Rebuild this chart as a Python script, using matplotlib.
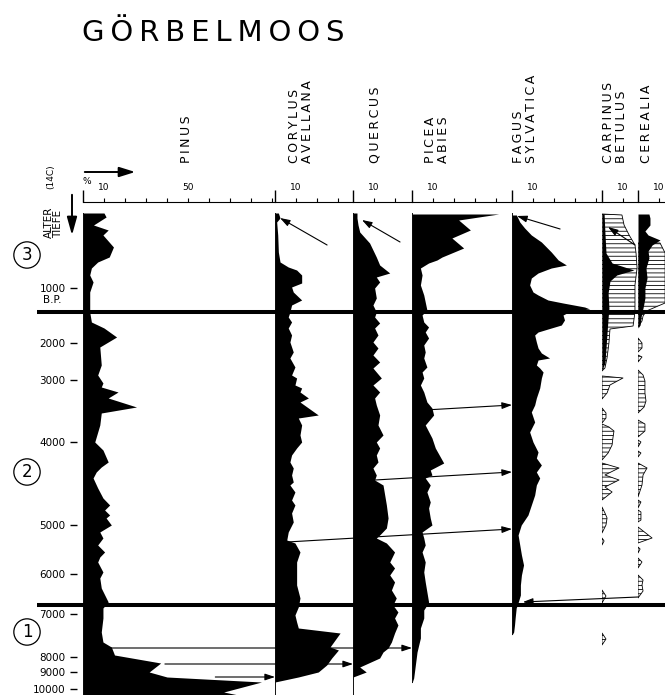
import numpy as np
import matplotlib.pyplot as plt
from matplotlib.patches import ConnectionPatch, FancyArrowPatch

plt.rcParams['font.family'] = ['DejaVu Sans']
plt.rcParams['hatch.linewidth'] = 0.6

# depth below the top of the profile (cm) and pollen percentages
pinus_depth = [0, 4, 12, 17, 22, 34, 44, 49, 55, 62, 69, 79, 99, 109, 115, 124, 134, 152, 162, 170,
               174, 179, 185, 194, 200, 212, 229, 237, 249, 254, 259, 265, 275, 285, 292, 297, 302, 305, 312, 319,
               325, 332, 339, 344, 349, 359, 365, 375, 389, 395, 405, 419, 429, 434, 442, 450, 459, 464, 469, 479, 482]
pinus_pct = [10, 11, 5, 12, 9.5, 14.5, 12.5, 7, 4, 3.2, 4.8, 3.2, 3.2, 4, 10, 16, 8, 8.7, 7, 9.5,
             8.7, 16.7, 12, 25.5, 8.7, 8, 5.6, 9.5, 12, 8.7, 6.3, 4.8, 7, 9.5, 12.7, 10.3, 12.7, 11, 13.5, 8,
             9.5, 7, 10.3, 8, 7, 9.5, 8, 8.7, 12, 9.5, 9.5, 8.7, 9.5, 13.5, 15, 37, 31.5, 40, 85, 67, 74]

corylus_depth = [0, 5, 9, 22, 39, 49, 54, 57, 62, 70, 74, 79, 87, 92, 99, 104, 109, 115, 122, 129,
                 139, 145, 154, 162, 165, 172, 175, 179, 185, 189, 202, 205, 212, 222, 229, 235, 242, 249, 255, 262,
                 269, 272, 279, 287, 292, 300, 309, 319, 327, 330, 339, 349, 372, 385, 394, 402, 409, 415, 420, 434,
                 437, 445, 452, 459, 464, 469]
corylus_pct = [1.6, 2.4, 0.8, 1.3, 1.6, 2.4, 6.3, 10.3, 12.7, 12.7, 7.9, 8.7, 12.7, 7.9, 7.1, 6.3, 7.9, 6.3, 7.9, 7.1,
               8.7, 7.1, 9.5, 7.9, 10.3, 9.5, 12.7, 11.9, 15.9, 11.9, 20.6, 11.1, 12.7, 11.9, 12.7, 10.3, 7.9, 7.1, 8.7, 7.9,
               8.7, 7.1, 9.5, 7.9, 9.5, 7.9, 8.7, 6.3, 5.6, 9.5, 11.9, 10.3, 10.3, 11.9, 11.1, 9.5, 10.3, 11.1, 31, 26.2,
               30.2, 27, 24.6, 20.6, 11.1, 0]

quercus_depth = [0, 5, 12, 19, 30, 44, 52, 60, 64, 69, 75, 85, 92, 99, 104, 110, 115, 122, 129, 135,
                 142, 149, 155, 165, 172, 179, 185, 192, 202, 212, 222, 229, 235, 242, 249, 255, 262, 267, 272, 282,
                 292, 305, 315, 322, 325, 330, 339, 349, 355, 362, 369, 377, 385, 392, 399, 405, 412, 420, 429, 435,
                 439, 445, 454, 459, 464]
quercus_pct = [1.9, 1.9, 2.4, 3.2, 7.9, 11.1, 12.7, 17.5, 11.1, 12.7, 10.3, 11.1, 9.5, 11.1, 10.3, 12.7, 10.3, 11.9, 9.5, 11.9,
               9.5, 12.7, 9.5, 13.5, 9.5, 12.7, 10.3, 11.1, 12.7, 11.9, 14.3, 11.1, 12.7, 11.1, 11.9, 9.5, 11.1, 10.3, 14.3, 15.1,
               15.9, 16.7, 15.9, 12.7, 11.1, 15.9, 19.8, 17.5, 19.8, 17.5, 19.8, 18.3, 20.6, 19, 21.4, 19.8, 21.4, 19.8, 18.3, 16.7,
               14.3, 12.7, 3.2, 6.3, 0]

picea_depth = [1, 7, 17, 25, 35, 44, 47, 50, 55, 62, 72, 82, 89, 97, 102, 109, 114, 119, 125, 132,
               139, 145, 154, 159, 165, 172, 179, 189, 195, 202, 212, 225, 235, 250, 257, 262, 265, 272, 279, 289,
               295, 305, 312, 319, 325, 332, 339, 349, 359, 369, 389, 392, 397, 405, 415, 425, 439, 452, 465, 470]
picea_pct = [41.3, 22.2, 27.8, 19, 24.6, 14.3, 11.9, 7.9, 4.0, 4.8, 4.0, 5.6, 6.3, 7.1, 4.8, 5.6, 7.9, 6.3, 7.9, 5.6,
             6.3, 5.6, 7.1, 4.8, 5.6, 4.0, 5.6, 7.1, 9.5, 10.3, 6.3, 9.5, 11.1, 15.1, 8.7, 9.5, 6.3, 8.7, 7.1, 8.7,
             7.9, 8.7, 9.5, 4.8, 5.6, 6.3, 4.8, 6.3, 5.6, 6.3, 7.9, 7.1, 5.6, 5.6, 4.0, 4.0, 2.4, 1.6, 0.8, 0]

fagus_depth = [2, 9, 15, 22, 29, 39, 47, 52, 55, 60, 65, 72, 79, 82, 87, 90, 94, 96, 98, 102,
               107, 112, 115, 119, 122, 129, 135, 140, 145, 147, 152, 155, 159, 165, 175, 185, 192, 199, 209, 219,
               229, 239, 245, 252, 259, 265, 272, 282, 292, 302, 312, 322, 332, 342, 352, 362, 372, 382, 389, 395,
               405, 412, 419, 422]
fagus_pct = [2.1, 3.7, 6.0, 9.2, 14, 18.7, 22, 25.9, 18.7, 12.4, 9.2, 8.4, 10, 12.4, 17.1, 24.3, 34.6, 37, 28, 24.3,
             25, 23.5, 18.7, 12.4, 10.8, 11.6, 12.4, 14, 17.9, 12.4, 11.6, 13.2, 14.8, 14, 13.2, 11.6, 10.8, 9.2, 10.8, 8.4,
             10, 12.4, 11.6, 14, 11.6, 13.2, 11.6, 10.8, 9.2, 7.6, 4.4, 2.9, 3.7, 4.5, 5.5, 4.5, 4, 4, 3, 2,
             1.5, 1.2, 0.8, 0]

carpinus_depth = [1, 20, 40, 50, 57, 62, 68, 80, 95, 105, 120, 135, 150, 157]
carpinus_pct = [1, 1.4, 1.9, 4.8, 15.2, 7, 3.8, 2.9, 3.3, 2.9, 2.4, 1.9, 1.4, 0]
# exaggerated (x10) outline, nan separates the single occurrences
nan = np.nan
carpinus_x10_depth = [1, 2, 12, 22, 32, 40, 55, 72, 99, 113, 116, 130, 145, 155, 158, nan,
                      163, 165, 172, 180, 186, nan, 195, 200, 205, 210, nan,
                      211, 214, 218, 225, 232, 240, 247, nan, 250, 255, 262, 267, 274, 279, 287, nan,
                      294, 300, 305, 312, 320, nan, 325, 328, 332, nan, 377, 383, 390, nan, 420, 426, 432]
carpinus_x10 = [0, 9.5, 10.5, 12.9, 15.7, 16.2, 16.7, 15.7, 15.7, 14.8, 3.8, 3.3, 2.4, 1.4, 0, nan,
                0, 10, 3.8, 2.4, 0, nan, 0, 1.9, 1.9, 0, nan,
                0, 3.3, 5.7, 5.2, 4.8, 2.9, 0, nan, 0, 8.1, 1.4, 8.1, 1.4, 4.8, 0, nan,
                0, 1.4, 2.4, 1.9, 0, nan, 0, 1.0, 0, nan, 0, 1.9, 0, nan, 0, 1.9, 0]

cerealia_depth = [1, 5, 12, 18, 22, 27, 32, 38, 45, 55, 65, 75, 85, 95, 99, 105, 112, 115]
cerealia_pct = [5.2, 5.7, 5.7, 3.3, 4.8, 10.5, 6.7, 4.8, 5.2, 3.8, 4.3, 3.3, 3.3, 2.4, 1.9, 1.4, 1.0, 0]
cerealia_x10_depth = [30, 40, 90, 98, 103, 108, 114, nan, 125, 130, 135, 139, nan, 142, 144, 149, nan,
                      157, 162, 168, 180, 188, 194, 200, nan, 207, 211, 218, 224, nan, 227, 229, 234, nan,
                      238, 240, 244, nan, 250, 255, 262, 272, 284, nan, 287, 289, 295, nan, 297, 299, 307, 309, nan,
                      314, 325, 330, nan, 334, 336, 340, nan, 345, 349, 355, nan, 362, 367, 372, 378, 385]
cerealia_x10 = [10.5, 12.9, 12.9, 4, 2.4, 1.9, 0, nan, 0, 1.9, 1.9, 0, nan, 0, 1.9, 0, nan,
                0, 2.4, 3.3, 3.3, 3.8, 2.9, 0, nan, 0, 3.3, 3.3, 0, nan, 0, 1.4, 0, nan,
                0, 1.4, 0, nan, 0, 4.3, 2.4, 1.9, 0, nan, 0, 1.4, 0, nan, 0, 1.4, 1.4, 0, nan,
                0, 6.7, 0, nan, 0, 1.0, 0, nan, 0, 1.9, 0, nan, 0, 2.4, 1.9, 2.4, 0]

taxa = ['PINUS', 'CORYLUS\nAVELLANA', 'QUERCUS', 'PICEA\nABIES',
        'FAGUS\nSYLVATICA', 'CARPINUS\nBETULUS', 'CEREALIA']
age_labels = ['1000', '2000', '3000', '4000', '5000', '6000', '7000', '8000', '9000', '10000']
age_depth = [75, 130, 167, 229, 312, 361, 401, 444, 459, 476]
zone_depth = [99, 392]
zone_names = ['3', '2', '1']
zone_label_depth = [42, 259, 419]

# correlation arrows: (from taxon, %, depth) -> (to taxon, %, depth)
links = [
    (1, 24.8, 32, 1, 2.4, 5),
    (2, 22.4, 29, 2, 4.3, 7),
    (4, 22.9, 16, 4, 2.4, 3),
    (5, 15.7, 32, 5, 2.9, 14),
    (3, 6.2, 197, 4, 0, 192),
    (2, 10.5, 267, 4, 0, 259),
    (1, 5.7, 329, 4, 0, 316),
    (6, 0, 384, 4, 5.2, 389),
    (0, 13.3, 435, 3, 0, 435),
    (0, 39, 451, 2, 0, 451),
    (0, 63, 464, 1, 0, 464),
]

W, H = 665, 695
TOP = 213
DMAX = H - TOP
PX = 2.1  # pixels per percent

edges = [83, 275, 353, 412, 512, 602, 638, 665]
label_x = [187, 301, 375, 437, 525, 615, 647]
scale_labels = [[10, 50], [10], [10], [10], [10], [10], [10]]
zero_end = [DMAX, DMAX, DMAX, 470, 422, None, None]
curves = [(pinus_depth, pinus_pct), (corylus_depth, corylus_pct), (quercus_depth, quercus_pct),
          (picea_depth, picea_pct), (fagus_depth, fagus_pct), (carpinus_depth, carpinus_pct),
          (cerealia_depth, cerealia_pct)]
outlines = {5: (carpinus_x10_depth, carpinus_x10), 6: (cerealia_x10_depth, cerealia_x10)}

fig = plt.figure(figsize=(W / 100, H / 100), dpi=100)


def fx(px):
    return px / W


def fy(py):
    return 1 - py / H


def spaced(s):
    return '\n'.join('\u2009'.join(line) for line in s.split('\n'))


axes = []
for i, name in enumerate(taxa):
    left, right = edges[i], edges[i + 1]
    ax = fig.add_axes([fx(left), 0, (right - left) / W, DMAX / H])
    xmax = (right - left) / PX
    ax.set_xlim(0, xmax)
    ax.set_ylim(DMAX, 0)
    ax.patch.set_visible(False)
    for s in ('left', 'right', 'bottom'):
        ax.spines[s].set_visible(False)
    ax.spines['top'].set_position(('outward', 8))
    ax.spines['top'].set_linewidth(0.8)
    ax.xaxis.set_ticks_position('top')
    ax.set_xticks([0], labels=[''])
    minor = np.arange(10, xmax, 10)
    ax.set_xticks(minor, labels=[str(int(t)) if t in scale_labels[i] else '' for t in minor], minor=True)
    ax.tick_params(axis='x', which='major', length=8.5, width=1)
    ax.tick_params(axis='x', which='minor', length=3, width=0.8, labelsize=6.5, pad=4)
    ax.set_yticks([])

    if i in outlines:
        od, ov = outlines[i]
        ax.fill_betweenx(od, 0, ov, facecolor='white', edgecolor='black', hatch='----', lw=0.6)
    d, v = curves[i]
    ax.fill_betweenx(d, 0, v, color='black', lw=0)
    if zero_end[i] is not None:
        ax.vlines(0, 0, zero_end[i], color='black', lw=1.3)
    axes.append(ax)

    fig.text(fx(label_x[i]), fy(163), spaced(name), rotation=90, ha='center', va='bottom',
             fontsize=9, multialignment='left', linespacing=1.0)

# age scale on the left of the Pinus column
ax0 = axes[0]
ax0.set_yticks(age_depth, labels=age_labels)
ax0.spines['left'].set_position(('outward', 4.5))
ax0.tick_params(axis='y', length=5, width=1, pad=3, labelsize=7.5)

# overlay for zone boundaries and zone numbers
ax_bg = fig.add_axes([0, 0, 1, DMAX / H], zorder=3)
ax_bg.set_xlim(0, W)
ax_bg.set_ylim(DMAX, 0)
ax_bg.axis('off')
ax_bg.hlines(zone_depth, 37, W, color='black', lw=2.9)
for name, d in zip(zone_names, zone_label_depth):
    ax_bg.text(27, d, name, ha='center', va='center', fontsize=12,
               bbox=dict(boxstyle='circle,pad=0.25', fc='white', ec='black', lw=0.9))
ax_bg.text(52, 300 - TOP, 'B.P.', ha='center', va='center', fontsize=7.5)

for a, xa, da, b, xb, db in links:
    con = ConnectionPatch(xyA=(xa, da), coordsA='data', axesA=axes[a],
                          xyB=(xb, db), coordsB='data', axesB=axes[b],
                          arrowstyle='-|>,head_length=0.6,head_width=0.2', mutation_scale=10,
                          color='black', lw=0.8)
    fig.add_artist(con)

# header
fig.text(fx(82), fy(41), spaced('GÖRBELMOOS'), fontsize=21, ha='left', va='baseline')
fig.add_artist(FancyArrowPatch((fx(82), fy(172)), (fx(138), fy(172)), transform=fig.transFigure,
                               arrowstyle='-|>,head_length=0.8,head_width=0.25', mutation_scale=12,
                               color='black', lw=1.4))
fig.add_artist(FancyArrowPatch((fx(72), fy(192)), (fx(72), fy(238)), transform=fig.transFigure,
                               arrowstyle='-|>,head_length=0.9,head_width=0.25', mutation_scale=12,
                               color='black', lw=1.4))
fig.text(fx(86.5), fy(181), '%', ha='center', va='center', fontsize=6.5)
fig.text(fx(51), fy(177), '(14C)', rotation=90, ha='center', va='center', fontsize=6.5)
fig.text(fx(49), fy(238), 'ALTER', rotation=90, ha='center', va='bottom', fontsize=7.5)
fig.text(fx(58.5), fy(238), 'TIEFE', rotation=90, ha='center', va='bottom', fontsize=7.5)

fig.savefig('out.png', dpi=100)
